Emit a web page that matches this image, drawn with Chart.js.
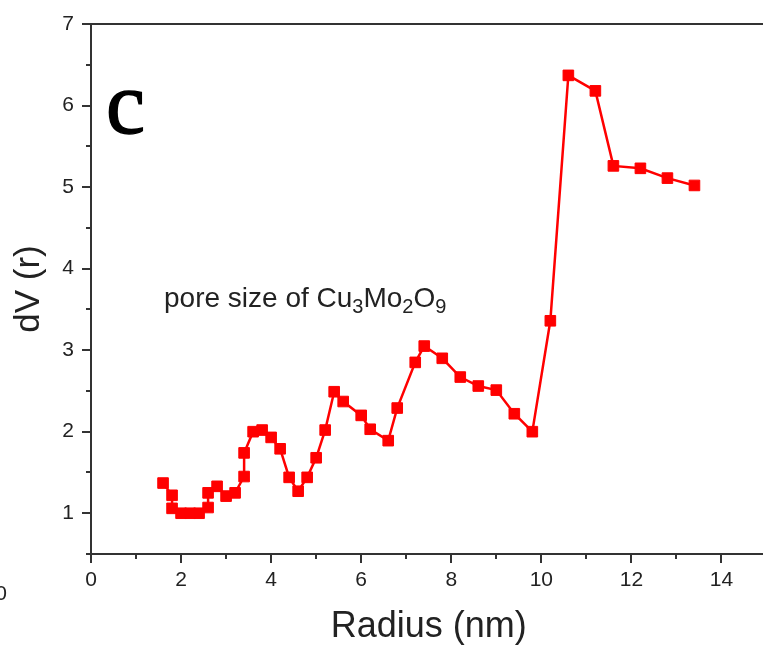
<!DOCTYPE html>
<html><head><meta charset="utf-8">
<script src="https://cdn.jsdelivr.net/npm/chart.js@4"></script>
<style>html,body{margin:0;padding:0;overflow:hidden;background:#fff}canvas{display:block}</style>
</head><body>
<canvas id="c" width="775" height="647"></canvas>
<script>
// ---- data ----
const radius = [1.6, 1.8, 1.8, 2.0, 2.2, 2.4, 2.6, 2.6, 2.8, 3.0, 3.2, 3.4, 3.4, 3.6, 3.8, 4.0, 4.2, 4.4, 4.6, 4.8, 5.0, 5.2, 5.4, 5.6, 6.0, 6.2, 6.6, 6.8, 7.2, 7.4, 7.8, 8.2, 8.6, 9.0, 9.4, 9.8, 10.2, 10.6, 11.2, 11.6, 12.2, 12.8, 13.4];
const dV = [1.37, 1.22, 1.06, 1.00, 1.00, 1.00, 1.07, 1.25, 1.33, 1.21, 1.25, 1.45, 1.74, 2.00, 2.02, 1.93, 1.79, 1.44, 1.27, 1.44, 1.68, 2.02, 2.49, 2.37, 2.20, 2.03, 1.89, 2.29, 2.85, 3.05, 2.90, 2.67, 2.56, 2.51, 2.22, 2.00, 3.36, 6.37, 6.18, 5.26, 5.23, 5.11, 5.02];
const xTicks = [0, 1, 2, 3, 4, 5, 6, 7, 8, 9, 10, 11, 12, 13, 14, 15];
const yTicks = [0.5, 1, 1.5, 2, 2.5, 3, 3.5, 4, 4.5, 5, 5.5, 6, 6.5, 7];
const xLabelTicks = [0, 2, 4, 6, 8, 10, 12, 14];
const yLabelTicks = [1, 2, 3, 4, 5, 6, 7];
const xTitle = 'Radius (nm)';
const yTitle = 'dV (r)';
const panelLetter = 'c';
const noteParts = [['pore size of Cu', 0], ['3', 1], ['Mo', 0], ['2', 1], ['O', 0], ['9', 1]];
const strayLabel = '0';

const INK = '#222222';
const AXIS = '#333333';
const SANS = "'Liberation Sans', Arial, sans-serif";

const zeroPad = s => { s.paddingTop = 0; s.paddingBottom = 0; s.paddingLeft = 0; s.paddingRight = 0; };

const decor = {
  id: 'decor',
  beforeDatasetsDraw(chart) {
    const { ctx, chartArea: a, scales: { x, y } } = chart;
    ctx.save();
    ctx.strokeStyle = AXIS;
    ctx.lineWidth = 2;
    ctx.strokeRect(a.left, a.top, a.right - a.left, a.bottom - a.top);
    ctx.beginPath();
    xTicks.forEach(v => {
      const px = Math.round(x.getPixelForValue(v));
      const len = xLabelTicks.includes(v) ? 9 : 5;
      ctx.moveTo(px, a.bottom); ctx.lineTo(px, a.bottom + len);
    });
    yTicks.forEach(v => {
      const py = Math.round(y.getPixelForValue(v));
      const len = yLabelTicks.includes(v) ? 9 : 5;
      ctx.moveTo(a.left, py); ctx.lineTo(a.left - len, py);
    });
    ctx.stroke();
    ctx.restore();
  },
  afterDraw(chart) {
    const { ctx, chartArea: a } = chart;
    ctx.save();
    ctx.fillStyle = '#000';
    ctx.strokeStyle = '#000';
    ctx.lineWidth = 1.4;
    ctx.textBaseline = 'alphabetic';
    ctx.textAlign = 'left';
    ctx.font = "88px 'Liberation Serif', 'Times New Roman', serif";
    ctx.fillText(panelLetter, a.left + 15, 133);
    ctx.strokeText(panelLetter, a.left + 15, 133);

    ctx.fillStyle = INK;
    let cx = 164;
    const base = 307;
    noteParts.forEach(([t, sub]) => {
      ctx.font = (sub ? '20px ' : '28px ') + SANS;
      ctx.fillText(t, cx, base + (sub ? 6 : 0));
      cx += ctx.measureText(t).width;
    });

    ctx.font = '21px ' + SANS;
    ctx.textAlign = 'center';
    ctx.textBaseline = 'middle';
    ctx.fillText(strayLabel, 1, 594);
    ctx.restore();
  }
};

new Chart(document.getElementById('c'), {
  type: 'scatter',
  data: {
    datasets: [{
      data: radius.map((r, i) => ({ x: r, y: dV[i] })),
      showLine: true,
      borderColor: '#ff0000',
      borderWidth: 2.5,
      tension: 0,
      pointStyle: 'rect',
      pointRadius: 7.5,
      pointBackgroundColor: '#ff0000',
      pointBorderColor: '#ff0000',
      pointBorderWidth: 1
    }]
  },
  options: {
    responsive: false,
    animation: false,
    devicePixelRatio: 1,
    layout: { padding: { top: 24, right: 4, left: 0, bottom: 0 } },
    plugins: { legend: { display: false }, tooltip: { enabled: false } },
    scales: {
      x: {
        type: 'linear', min: 0, max: 15,
        afterBuildTicks: s => { s.ticks = xTicks.map(v => ({ value: v })); },
        afterFit: s => { s.height = 93; zeroPad(s); },
        grid: { display: false, drawTicks: false },
        border: { display: false },
        ticks: {
          autoSkip: false, maxRotation: 0, padding: 14, color: INK,
          font: { family: SANS, size: 21 },
          callback: v => (xLabelTicks.includes(v) ? String(v) : '')
        },
        title: { display: true, text: xTitle, color: INK, font: { family: SANS, size: 36, lineHeight: 1 }, padding: { top: 0, bottom: 2 } }
      },
      y: {
        type: 'linear', min: 0.5, max: 7,
        afterBuildTicks: s => { s.ticks = yTicks.map(v => ({ value: v })); },
        afterFit: s => { s.width = 91; zeroPad(s); },
        grid: { display: false, drawTicks: false },
        border: { display: false },
        ticks: {
          autoSkip: false, padding: 17, color: INK,
          font: { family: SANS, size: 21 },
          callback: v => (yLabelTicks.includes(v) ? String(v) : '')
        },
        title: { display: true, text: yTitle, color: INK, font: { family: SANS, size: 35, lineHeight: 1 }, padding: { top: 12, bottom: 0 } }
      }
    }
  },
  plugins: [decor]
});
</script>
</body></html>
